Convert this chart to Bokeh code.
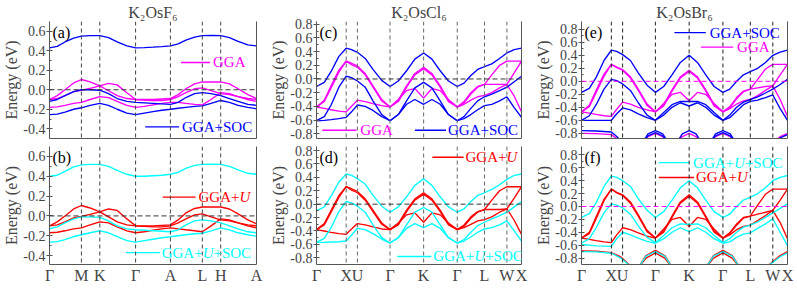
from bokeh.plotting import figure
from bokeh.models import Span, Label, LinearAxis, FixedTicker, Range1d, PrintfTickFormatter
from bokeh.layouts import row, column
from bokeh.embed import file_html
from bokeh.resources import INLINE

FONT = "Liberation Serif"
BLUE = "#0000ff"
MAGENTA = "#ff00ff"
RED = "#ff0000"
CYAN = "#00ffff"

# ---------------- hexagonal path (K2OsF6) ----------------
hex_kpts = [0, 33, 52, 89, 125, 158, 177, 214]
hex_labels = ["Γ", "M", "K", "Γ", "A", "L", "H", "A"]
hex_k = [0, 8, 16, 25, 33, 42, 52, 61, 70, 80, 89, 98, 107, 116, 125, 133, 141, 150, 158, 167, 177, 186, 195, 205, 214]

a_soc1 = [0.43, 0.445, 0.49, 0.53, 0.55, 0.555, 0.555, 0.535, 0.49, 0.45, 0.43, 0.432, 0.437, 0.443, 0.45, 0.47, 0.51, 0.54, 0.555, 0.557, 0.555, 0.535, 0.495, 0.46, 0.45]
a_soc2 = [-0.12, -0.10, -0.06, -0.02, 0.0, 0.0, -0.005, -0.04, -0.09, -0.12, -0.13, -0.135, -0.14, -0.145, -0.15, -0.13, -0.08, -0.04, -0.03, -0.04, -0.06, -0.09, -0.12, -0.15, -0.16]
a_soc3 = [-0.255, -0.25, -0.23, -0.20, -0.185, -0.16, -0.14, -0.16, -0.20, -0.24, -0.255, -0.24, -0.225, -0.21, -0.20, -0.19, -0.18, -0.17, -0.165, -0.14, -0.11, -0.13, -0.16, -0.18, -0.195]
a_gga1 = [-0.10, -0.06, 0.00, 0.07, 0.105, 0.08, 0.04, -0.01, -0.06, -0.09, -0.10, -0.10, -0.10, -0.095, -0.09, -0.05, 0.01, 0.06, 0.08, 0.08, 0.08, 0.06, 0.01, -0.05, -0.09]
a_gga2 = [-0.10, -0.09, -0.06, -0.02, -0.005, 0.015, 0.04, 0.065, 0.05, -0.03, -0.10, -0.105, -0.11, -0.11, -0.10, -0.07, -0.03, 0.01, 0.02, -0.01, -0.04, -0.05, -0.07, -0.09, -0.10]
a_gga3 = [-0.18, -0.175, -0.16, -0.14, -0.13, -0.10, -0.07, -0.08, -0.12, -0.16, -0.18, -0.17, -0.155, -0.14, -0.13, -0.13, -0.14, -0.15, -0.155, -0.10, -0.03, -0.04, -0.07, -0.10, -0.12]

b_soc1 = [0.40, 0.41, 0.45, 0.495, 0.515, 0.52, 0.52, 0.50, 0.46, 0.42, 0.40, 0.40, 0.405, 0.41, 0.42, 0.44, 0.48, 0.51, 0.52, 0.522, 0.52, 0.50, 0.465, 0.43, 0.42]
b_soc2 = [-0.13, -0.11, -0.07, -0.03, -0.01, -0.01, -0.015, -0.05, -0.10, -0.13, -0.14, -0.145, -0.15, -0.155, -0.16, -0.14, -0.09, -0.05, -0.04, -0.05, -0.07, -0.10, -0.13, -0.16, -0.17]
b_soc3 = [-0.265, -0.26, -0.24, -0.21, -0.19, -0.17, -0.15, -0.17, -0.21, -0.25, -0.265, -0.25, -0.235, -0.22, -0.21, -0.20, -0.19, -0.18, -0.175, -0.15, -0.12, -0.14, -0.17, -0.19, -0.205]
b_u1 = [-0.10, -0.06, 0.00, 0.07, 0.105, 0.08, 0.04, -0.01, -0.06, -0.09, -0.10, -0.10, -0.10, -0.095, -0.09, -0.04, 0.03, 0.075, 0.09, 0.09, 0.09, 0.07, 0.02, -0.04, -0.08]
b_u2 = [-0.10, -0.09, -0.06, -0.02, -0.005, 0.015, 0.04, 0.07, 0.055, -0.03, -0.10, -0.105, -0.11, -0.11, -0.10, -0.07, -0.03, 0.01, 0.02, -0.01, -0.04, -0.05, -0.07, -0.09, -0.10]
b_u3 = [-0.17, -0.165, -0.15, -0.13, -0.12, -0.09, -0.06, -0.07, -0.11, -0.15, -0.17, -0.16, -0.145, -0.13, -0.12, -0.13, -0.14, -0.15, -0.16, -0.10, -0.03, -0.04, -0.07, -0.10, -0.12]

# ---------------- fcc path (K2OsCl6, K2OsBr6) ----------------
fcc_kpts = [0, 30.5, 42, 75.5, 110, 144.5, 172.5, 195.5, 210.5]
fcc_labels = ["Γ", "X", "U", "Γ", "K", "Γ", "L", "W", "X"]
fcc_k = [0, 8, 15, 23, 30.5, 36, 42, 50, 58, 67, 75.5, 84, 92.5, 101, 110, 118.5, 127, 135.5, 144.5, 151.5, 158.5, 165.5, 172.5, 180, 188, 195.5, 203, 210.5]

c_soc1 = [-0.11, -0.05, 0.11, 0.33, 0.45, 0.43, 0.39, 0.30, 0.14, -0.02, -0.11, -0.03, 0.12, 0.29, 0.38, 0.29, 0.12, -0.03, -0.11, -0.06, 0.05, 0.14, 0.18, 0.22, 0.30, 0.38, 0.43, 0.45]
c_soc2 = [-0.61, -0.55, -0.38, -0.12, 0.04, 0.02, -0.03, -0.12, -0.32, -0.52, -0.61, -0.52, -0.32, -0.13, -0.05, -0.13, -0.32, -0.52, -0.61, -0.55, -0.43, -0.32, -0.26, -0.22, -0.17, -0.12, -0.04, 0.04]
c_soc3 = [-0.61, -0.605, -0.595, -0.58, -0.56, -0.48, -0.38, -0.40, -0.46, -0.55, -0.61, -0.52, -0.37, -0.30, -0.37, -0.30, -0.37, -0.52, -0.61, -0.58, -0.52, -0.45, -0.39, -0.37, -0.32, -0.26, -0.42, -0.56]
c_gga1 = [-0.41, -0.31, -0.10, 0.13, 0.26, 0.23, 0.19, 0.08, -0.10, -0.30, -0.41, -0.31, -0.10, 0.08, 0.17, 0.08, -0.10, -0.31, -0.41, -0.35, -0.22, -0.12, -0.08, 0.06, 0.20, 0.26, 0.26, 0.26]
c_gga2 = [-0.41, -0.33, -0.13, 0.10, 0.26, 0.21, 0.17, 0.06, -0.12, -0.32, -0.41, -0.33, -0.12, 0.06, 0.15, 0.06, -0.12, -0.33, -0.41, -0.33, -0.20, -0.11, -0.08, -0.08, -0.08, -0.08, -0.25, -0.48]
c_gga3 = [-0.41, -0.43, -0.45, -0.47, -0.48, -0.40, -0.31, -0.33, -0.36, -0.39, -0.41, -0.30, -0.17, -0.14, -0.28, -0.14, -0.17, -0.30, -0.41, -0.37, -0.31, -0.26, -0.24, -0.20, -0.13, -0.08, 0.09, 0.26]

d_soc1 = [-0.10, -0.04, 0.12, 0.33, 0.45, 0.43, 0.38, 0.30, 0.13, -0.03, -0.12, -0.04, 0.11, 0.28, 0.38, 0.28, 0.11, -0.04, -0.12, -0.07, 0.04, 0.13, 0.17, 0.22, 0.29, 0.37, 0.43, 0.45]
d_soc2 = [-0.57, -0.51, -0.35, -0.11, 0.04, 0.02, -0.03, -0.12, -0.31, -0.50, -0.58, -0.50, -0.31, -0.12, -0.05, -0.12, -0.31, -0.50, -0.58, -0.53, -0.42, -0.32, -0.27, -0.22, -0.17, -0.12, -0.04, 0.04]
d_soc3 = [-0.57, -0.57, -0.565, -0.56, -0.55, -0.46, -0.36, -0.38, -0.44, -0.52, -0.58, -0.50, -0.36, -0.29, -0.35, -0.29, -0.36, -0.50, -0.58, -0.55, -0.49, -0.42, -0.37, -0.35, -0.31, -0.25, -0.40, -0.55]
d_u1 = [-0.38, -0.29, -0.09, 0.13, 0.26, 0.23, 0.19, 0.08, -0.09, -0.28, -0.38, -0.29, -0.09, 0.08, 0.17, 0.08, -0.09, -0.29, -0.38, -0.33, -0.21, -0.12, -0.08, 0.06, 0.20, 0.26, 0.26, 0.26]
d_u2 = [-0.38, -0.31, -0.12, 0.10, 0.26, 0.21, 0.17, 0.06, -0.11, -0.30, -0.38, -0.31, -0.11, 0.06, 0.15, 0.06, -0.11, -0.31, -0.38, -0.31, -0.19, -0.11, -0.08, -0.08, -0.08, -0.07, -0.24, -0.45]
d_u3 = [-0.38, -0.40, -0.42, -0.44, -0.45, -0.37, -0.29, -0.31, -0.34, -0.37, -0.38, -0.28, -0.16, -0.13, -0.27, -0.13, -0.16, -0.28, -0.38, -0.35, -0.30, -0.25, -0.23, -0.19, -0.12, -0.07, 0.09, 0.26]

e_soc1 = [-0.17, -0.11, 0.06, 0.32, 0.48, 0.46, 0.41, 0.32, 0.13, -0.06, -0.17, -0.08, 0.10, 0.29, 0.40, 0.29, 0.10, -0.08, -0.17, -0.12, 0.00, 0.10, 0.15, 0.20, 0.29, 0.40, 0.45, 0.48]
e_soc2 = [-0.60, -0.53, -0.36, -0.12, 0.03, 0.01, -0.04, -0.14, -0.33, -0.52, -0.60, -0.48, -0.36, -0.31, -0.31, -0.31, -0.36, -0.48, -0.60, -0.52, -0.40, -0.32, -0.28, -0.24, -0.18, -0.12, -0.05, 0.03]
e_soc3 = [-0.60, -0.60, -0.60, -0.60, -0.60, -0.50, -0.41, -0.44, -0.50, -0.56, -0.60, -0.52, -0.40, -0.33, -0.38, -0.33, -0.40, -0.52, -0.60, -0.56, -0.46, -0.36, -0.31, -0.29, -0.25, -0.21, -0.42, -0.60]
e_gga1 = [-0.47, -0.37, -0.14, 0.11, 0.26, 0.22, 0.18, 0.07, -0.12, -0.35, -0.47, -0.36, -0.13, 0.07, 0.17, 0.07, -0.13, -0.36, -0.47, -0.41, -0.27, -0.16, -0.12, 0.03, 0.19, 0.26, 0.26, 0.26]
e_gga2 = [-0.47, -0.39, -0.17, 0.08, 0.26, 0.21, 0.17, 0.05, -0.14, -0.37, -0.47, -0.38, -0.15, 0.05, 0.15, 0.05, -0.15, -0.38, -0.47, -0.39, -0.25, -0.15, -0.12, -0.10, -0.08, -0.07, -0.28, -0.54]
e_gga3 = [-0.47, -0.49, -0.51, -0.53, -0.54, -0.43, -0.32, -0.35, -0.40, -0.44, -0.47, -0.34, -0.20, -0.17, -0.30, -0.17, -0.20, -0.34, -0.47, -0.42, -0.35, -0.30, -0.28, -0.22, -0.14, -0.07, 0.10, 0.26]

# lower (Br-derived) bands visible at the bottom of (e)
e_low1_k = [0, 15, 30.5, 36, 42]
e_low1_soc = [-0.76, -0.765, -0.78, -0.85, -0.95]
e_low1_gga = [-0.80, -0.805, -0.82, -0.88, -0.95]
e_arch_g1_k = [62, 68, 75.5, 83, 89]
e_arch_g2_k = [131, 137, 144.5, 152, 158]
e_arch_k_k = [97, 103, 110, 117, 123]
e_arch_soc = [-0.95, -0.81, -0.76, -0.81, -0.95]
e_arch_soc_b = [-0.95, -0.84, -0.79, -0.84, -0.95]
e_arch_gga = [-0.95, -0.85, -0.80, -0.85, -0.95]
e_end_k = [196, 203, 210.5]
e_end_soc = [-0.95, -0.87, -0.82]
e_end_gga = [-0.95, -0.85, -0.80]

f_soc1 = [-0.17, -0.11, 0.06, 0.31, 0.47, 0.45, 0.40, 0.31, 0.12, -0.06, -0.17, -0.08, 0.10, 0.29, 0.40, 0.29, 0.10, -0.08, -0.17, -0.12, 0.00, 0.10, 0.14, 0.20, 0.29, 0.40, 0.45, 0.48]
f_soc2 = [-0.57, -0.50, -0.33, -0.10, 0.04, 0.02, -0.02, -0.12, -0.30, -0.48, -0.56, -0.45, -0.33, -0.27, -0.28, -0.27, -0.33, -0.45, -0.56, -0.50, -0.40, -0.32, -0.29, -0.24, -0.17, -0.10, -0.03, 0.04]
f_soc3 = [-0.59, -0.60, -0.61, -0.615, -0.62, -0.50, -0.40, -0.44, -0.49, -0.54, -0.57, -0.50, -0.40, -0.33, -0.39, -0.33, -0.40, -0.50, -0.57, -0.55, -0.48, -0.43, -0.41, -0.34, -0.27, -0.19, -0.40, -0.61]
f_u1 = [-0.49, -0.40, -0.16, 0.11, 0.27, 0.22, 0.18, 0.07, -0.13, -0.37, -0.49, -0.38, -0.15, 0.07, 0.18, 0.07, -0.15, -0.38, -0.49, -0.42, -0.29, -0.18, -0.15, 0.02, 0.19, 0.27, 0.27, 0.27]
f_u2 = [-0.49, -0.42, -0.19, 0.09, 0.27, 0.21, 0.17, 0.05, -0.15, -0.39, -0.49, -0.40, -0.17, 0.05, 0.16, 0.05, -0.17, -0.40, -0.49, -0.41, -0.27, -0.17, -0.15, -0.12, -0.09, -0.06, -0.25, -0.50]
f_u3 = [-0.49, -0.51, -0.53, -0.55, -0.56, -0.44, -0.33, -0.36, -0.41, -0.46, -0.49, -0.35, -0.20, -0.17, -0.31, -0.17, -0.20, -0.35, -0.49, -0.44, -0.36, -0.31, -0.29, -0.22, -0.14, -0.06, 0.10, 0.27]

f_low1_k = [0, 15, 30.5, 40, 52]
f_low1_soc = [-0.70, -0.705, -0.725, -0.80, -0.95]
f_low1_u = [-0.69, -0.695, -0.715, -0.78, -0.95]
f_arch_g1_k = [58, 66, 75.5, 85, 93]
f_arch_g2_k = [127, 135, 144.5, 154, 162]
f_arch_u = [-0.95, -0.76, -0.68, -0.76, -0.95]
f_arch_u_b = [-0.95, -0.80, -0.72, -0.80, -0.95]
f_arch_soc = [-0.95, -0.77, -0.70, -0.77, -0.95]
f_end_k = [188, 196, 203, 210.5]
f_end_u = [-0.95, -0.85, -0.76, -0.70]
f_end_soc = [-0.95, -0.86, -0.78, -0.72]

yticks_a = [-0.4, -0.2, 0.0, 0.2, 0.4, 0.6]
yticks_c = [-0.8, -0.6, -0.4, -0.2, 0.0, 0.2, 0.4, 0.6, 0.8]

CW = {"G": 0.722, "A": 0.722, "+": 0.564, "S": 0.556, "O": 0.722, "C": 0.667, "U": 0.722}
LW = 1.35


def text_w(s, size):
    return sum(CW.get(ch, 0.6) for ch in s) * size


def add_legend(p, x0, x1, xt, y, color, parts, size=15):
    p.segment(x0=[x0], y0=[y], x1=[x1], y1=[y], line_color=color, line_width=LW)
    off = 0.0
    for txt, style in parts:
        p.add_layout(Label(x=xt, y=y, x_offset=off, text=txt, text_font=FONT,
                           text_font_size=f"{size}px", text_font_style=style,
                           text_color=color, text_baseline="middle", text_align="left"))
        off += text_w(txt, size)


def make_panel(kpts, klabels, yr, yticks, bands, title, letter, top, zero_color,
               vline_color, fw, fh, bl, br):
    kw = dict(frame_width=fw, frame_height=fh,
              x_range=Range1d(kpts[0], kpts[-1]), y_range=Range1d(*yr),
              output_backend="svg", toolbar_location=None, tools="",
              min_border_left=bl, min_border_right=br,
              min_border_top=20 if top else 3, min_border_bottom=5 if top else 19)
    if title:
        p = figure(title=title, **kw)
        p.title.text_font = FONT
        p.title.text_font_size = "16px"
        p.title.text_font_style = "normal"
        p.title.align = "center"
        p.title.standoff = 2
    else:
        p = figure(**kw)
    p.outline_line_color = None
    p.grid.visible = False

    # y axis
    ya = p.yaxis[0]
    ya.ticker = FixedTicker(ticks=yticks, minor_ticks=[round(t + 0.1, 2) for t in yticks[:-1]])
    ya.formatter = PrintfTickFormatter(format="%.1f")
    ya.axis_label = "Energy (eV)"
    ya.axis_label_text_font = FONT
    ya.axis_label_text_font_size = "16px"
    ya.axis_label_text_font_style = "normal"
    ya.axis_label_standoff = 0
    ya.major_label_text_font = FONT
    ya.major_label_text_font_size = "14px"
    ya.major_label_standoff = 1
    ya.major_tick_out = 3
    ya.major_tick_in = 3
    ya.minor_tick_out = 0
    ya.minor_tick_in = 2
    ya.axis_line_color = "#555555"
    ya.major_tick_line_color = "#555555"
    ya.minor_tick_line_color = "#555555"

    # x axis (bottom border; labelled only in the lower row)
    xa = p.xaxis[0]
    xa.major_tick_line_color = None
    xa.minor_tick_line_color = None
    xa.major_tick_out = 0
    xa.major_tick_in = 0
    xa.axis_line_color = "#555555"
    xa.major_label_text_font = FONT
    if top:
        xa.ticker = FixedTicker(ticks=[])
        xa.major_label_standoff = 0
    else:
        xa.ticker = FixedTicker(ticks=kpts)
        xa.major_label_overrides = {float(k): lab for k, lab in zip(kpts, klabels)}
        xa.major_label_text_font_size = "16px"
        xa.major_label_standoff = 2

    # right border
    ra = LinearAxis(ticker=FixedTicker(ticks=[]),
                    major_tick_line_color=None, minor_tick_line_color=None,
                    major_label_standoff=0, axis_line_color="#555555")
    p.add_layout(ra, "right")

    for k in kpts[1:-1]:
        p.add_layout(Span(location=k, dimension="height", line_color=vline_color,
                          line_dash="4 3", line_width=1))
    p.add_layout(Span(location=0, dimension="width", line_color=zero_color,
                      line_dash="5 3", line_width=1))

    for k, e, col in bands:
        p.line(k, e, line_color=col, line_width=LW)

    p.add_layout(Label(x=kpts[0], y=yr[1], x_offset=3, y_offset=-2, text=letter,
                       text_font=FONT, text_font_size="16px", text_color="black",
                       text_baseline="top", text_align="left"))
    return p


FW1, FW2, FW3 = 207, 205, 206
FH_T, FH_B = 117, 118
BL = 44

pa = make_panel(hex_kpts, hex_labels, (-0.5, 0.7), yticks_a,
                [(hex_k, a_gga1, MAGENTA), (hex_k, a_gga2, MAGENTA), (hex_k, a_gga3, MAGENTA),
                 (hex_k, a_soc1, BLUE), (hex_k, a_soc2, BLUE), (hex_k, a_soc3, BLUE)],
                "K₂OsF₆", "(a)", True, "#333333", "#444444", FW1, FH_T, BL, 11)
add_legend(pa, 136, 166, 169, 0.28, MAGENTA, [("GGA", "normal")])
add_legend(pa, 99, 134, 137, -0.38, BLUE, [("GGA+SOC", "normal")])

pb = make_panel(hex_kpts, hex_labels, (-0.49, 0.7), yticks_a,
                [(hex_k, b_u1, RED), (hex_k, b_u2, RED), (hex_k, b_u3, RED),
                 (hex_k, b_soc1, CYAN), (hex_k, b_soc2, CYAN), (hex_k, b_soc3, CYAN)],
                None, "(b)", False, "#333333", "#444444", FW1, FH_B, BL, 11)
add_legend(pb, 117, 151, 154, 0.19, RED, [("GGA+", "normal"), ("U", "italic")])
add_legend(pb, 79, 114, 116, -0.37, CYAN, [("GGA+", "normal"), ("U", "italic"), ("+SOC", "normal")])

pc = make_panel(fcc_kpts, fcc_labels, (-0.87, 0.84), yticks_c,
                [(fcc_k, c_gga1, MAGENTA), (fcc_k, c_gga2, MAGENTA), (fcc_k, c_gga3, MAGENTA),
                 (fcc_k, c_soc1, BLUE), (fcc_k, c_soc2, BLUE), (fcc_k, c_soc3, BLUE)],
                "K₂OsCl₆", "(c)", True, "#333333", "#666666", FW2, FH_T, BL, 11)
add_legend(pc, 6, 41, 45, -0.75, MAGENTA, [("GGA", "normal")])
add_legend(pc, 101, 133, 135, -0.75, BLUE, [("GGA+SOC", "normal")])

pd = make_panel(fcc_kpts, fcc_labels, (-0.9, 0.86), yticks_c,
                [(fcc_k, d_u1, RED), (fcc_k, d_u2, RED), (fcc_k, d_u3, RED),
                 (fcc_k, d_soc1, CYAN), (fcc_k, d_soc2, CYAN), (fcc_k, d_soc3, CYAN)],
                None, "(d)", False, "#333333", "#666666", FW2, FH_B, BL, 11)
add_legend(pd, 119, 151, 153, 0.70, RED, [("GGA+", "normal"), ("U", "italic")])
add_legend(pd, 83, 118, 120, -0.78, CYAN, [("GGA+", "normal"), ("U", "italic"), ("+SOC", "normal")])

pe = make_panel(fcc_kpts, fcc_labels, (-0.88, 0.92), yticks_c,
                [(fcc_k, e_gga1, MAGENTA), (fcc_k, e_gga2, MAGENTA), (fcc_k, e_gga3, MAGENTA),
                 (e_low1_k, e_low1_gga, MAGENTA), (e_arch_g1_k, e_arch_gga, MAGENTA),
                 (e_arch_g2_k, e_arch_gga, MAGENTA), (e_arch_k_k, e_arch_gga, MAGENTA),
                 (e_end_k, e_end_gga, MAGENTA),
                 (fcc_k, e_soc1, BLUE), (fcc_k, e_soc2, BLUE), (fcc_k, e_soc3, BLUE),
                 (e_low1_k, e_low1_soc, BLUE), (e_arch_g1_k, e_arch_soc, BLUE),
                 (e_arch_g1_k, e_arch_soc_b, BLUE), (e_arch_g2_k, e_arch_soc, BLUE),
                 (e_arch_g2_k, e_arch_soc_b, BLUE), (e_arch_k_k, e_arch_soc, BLUE),
                 (e_end_k, e_end_soc, BLUE)],
                "K₂OsBr₆", "(e)", True, MAGENTA, "#222222", FW3, FH_T, BL, 7)
add_legend(pe, 95, 127, 131, 0.75, BLUE, [("GGA+SOC", "normal")])
add_legend(pe, 122, 155, 159, 0.525, MAGENTA, [("GGA", "normal")])

pf = make_panel(fcc_kpts, fcc_labels, (-0.9, 0.93), yticks_c,
                [(fcc_k, f_u1, RED), (fcc_k, f_u2, RED), (fcc_k, f_u3, RED),
                 (f_low1_k, f_low1_u, RED), (f_arch_g1_k, f_arch_u, RED), (f_arch_g1_k, f_arch_u_b, RED),
                 (f_arch_g2_k, f_arch_u, RED), (f_arch_g2_k, f_arch_u_b, RED), (f_end_k, f_end_u, RED),
                 (fcc_k, f_soc1, CYAN), (fcc_k, f_soc2, CYAN), (fcc_k, f_soc3, CYAN),
                 (f_low1_k, f_low1_soc, CYAN), (f_arch_g1_k, f_arch_soc, CYAN),
                 (f_arch_g2_k, f_arch_soc, CYAN), (f_end_k, f_end_soc, CYAN)],
                None, "(f)", False, MAGENTA, "#222222", FW3, FH_B, BL, 7)
add_legend(pf, 79, 110, 114, 0.68, CYAN, [("GGA+", "normal"), ("U", "italic"), ("+SOC", "normal")])
add_legend(pf, 79, 115, 117, 0.45, RED, [("GGA+", "normal"), ("U", "italic")])

layout = column(row(pa, pc, pe, spacing=0), row(pb, pd, pf, spacing=0), spacing=0)

open("out.html", "w").write(file_html(layout, INLINE))
